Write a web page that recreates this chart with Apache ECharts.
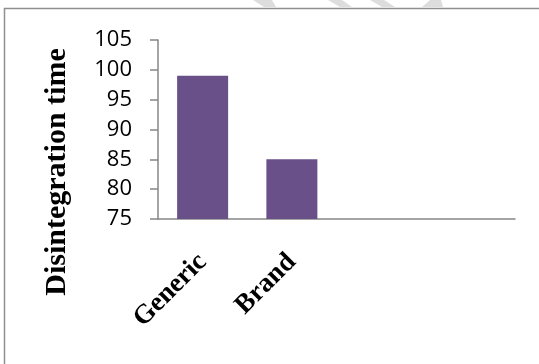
<!DOCTYPE html>
<html>
<head>
<meta charset="utf-8">
<style>
  html, body { margin: 0; padding: 0; background: #ffffff; }
  #chart { width: 539px; height: 364px; }
</style>
<script src="https://cdn.jsdelivr.net/npm/echarts@6/dist/echarts.min.js"></script>
</head>
<body>
<div id="chart"></div>
<script>
// Disintegration time by product type
const categories = ['Generic', 'Brand', '', ''];
const disintegrationTime = [99, 85, null, null];
const yTicks = { min: 75, max: 105, step: 5 };
const axisTitle = 'Disintegration time';

const chart = echarts.init(document.getElementById('chart'), null, { renderer: 'canvas' });

const axisGray = '#878787';

chart.setOption({
  backgroundColor: '#ffffff',
  animation: false,
  grid: { left: 158, right: 24, top: 40, bottom: 145 },
  xAxis: {
    type: 'category',
    data: categories,
    boundaryGap: true,
    axisLine: { show: true, lineStyle: { color: axisGray, width: 1.5 } },
    axisTick: { show: false },
    splitLine: { show: false },
    axisLabel: {
      interval: 0,
      rotate: 45,
      margin: 39,
      color: '#000000',
      fontFamily: 'Liberation Serif',
      fontWeight: 'bold',
      fontSize: 27
    }
  },
  yAxis: {
    type: 'value',
    min: yTicks.min,
    max: yTicks.max,
    interval: yTicks.step,
    axisLine: { show: true, lineStyle: { color: axisGray, width: 1.5 } },
    axisTick: { show: true, inside: false, length: 8, lineStyle: { color: axisGray, width: 1.5 } },
    splitLine: { show: false },
    axisLabel: {
      margin: 26,
      color: '#000000',
      fontFamily: 'Open Sans',
      fontSize: 22
    }
  },
  series: [{
    type: 'bar',
    data: disintegrationTime,
    barWidth: 51,
    itemStyle: { color: '#6a5088' }
  }],
  graphic: [
    // page frame
    {
      type: 'rect',
      silent: true,
      shape: { x: 4.5, y: 8.5, width: 600, height: 400 },
      style: { fill: 'none', stroke: '#8f8f8f', lineWidth: 1.5 }
    },
    // faint marks along the top edge
    { type: 'polygon', silent: true, shape: { points: [[253, 0], [272, 0], [276, 7], [264, 7]] }, style: { fill: '#dddddd' } },
    { type: 'polygon', silent: true, shape: { points: [[328, 0], [342, 0], [352, 7], [340, 7]] }, style: { fill: '#dddddd' } },
    { type: 'polygon', silent: true, shape: { points: [[370, 0], [384, 0], [395, 7], [382, 7]] }, style: { fill: '#dddddd' } },
    { type: 'polygon', silent: true, shape: { points: [[430, 0], [441, 0], [443, 7], [422, 7]] }, style: { fill: '#dddddd' } },
    // y axis title
    {
      type: 'text',
      silent: true,
      x: 57,
      y: 172,
      rotation: Math.PI / 2,
      style: {
        text: axisTitle,
        font: 'bold 30px "Liberation Serif"',
        fill: '#000000',
        align: 'center',
        verticalAlign: 'middle'
      }
    }
  ]
});
</script>
</body>
</html>
